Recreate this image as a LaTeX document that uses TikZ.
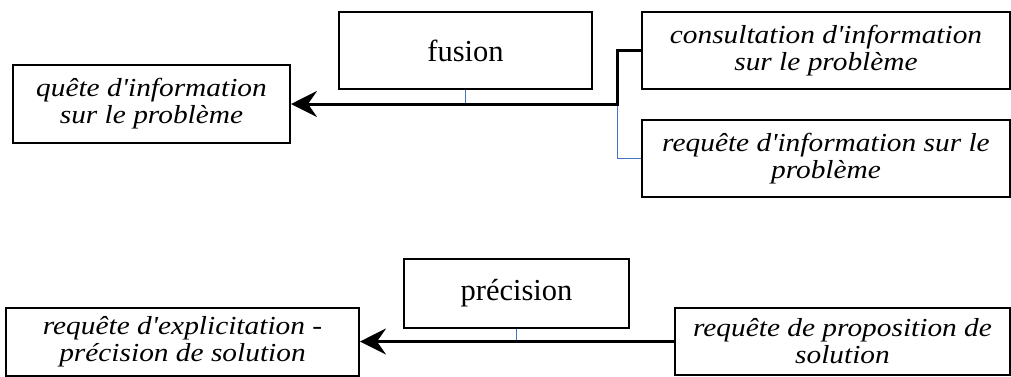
\documentclass[tikz,border=0pt]{standalone}
\usepackage{fontspec}
\setmainfont{Liberation Serif}
\newfontfamily\itf[FakeStretch=1.13]{Liberation Serif}
\usetikzlibrary{arrows.meta}
\definecolor{linkblue}{HTML}{4472C4}
\tikzset{
  box/.style={draw=black, line width=2pt, inner sep=0pt, align=center, anchor=center},
  ibox/.style={box, font=\itf\itshape\fontsize{26}{27}\selectfont},
  ubox/.style={box, font=\fontsize{30.5}{34}\selectfont},
  mainlink/.style={draw=black, line width=3pt, -{Stealth[length=26pt,width=26pt,inset=9pt]}},
  sublink/.style={draw=linkblue, line width=1pt},
}
\begin{document}
\begin{tikzpicture}[x=1pt,y=-1pt]
\useasboundingbox (0,0) rectangle (1011,376);
% top
\node[ubox, minimum width=253pt, minimum height=77pt] (fusion) at (465.5,50.5) {fusion};
\node[ibox, minimum width=277pt, minimum height=78pt] (quete) at (151.5,104) {quête d'information\\sur le problème};
\node[ibox, minimum width=368pt, minimum height=77pt] (consult) at (826,50.5) {consultation d'information\\sur le problème};
\node[ibox, minimum width=368pt, minimum height=77pt] (reqinfo) at (826,158.5) {requête d'information sur le\\problème};
\coordinate (bend) at (617,104);
\draw[sublink] (fusion.south) -- (fusion.south |- bend);
\draw[sublink] (reqinfo.west) -| (bend);
\draw[mainlink] (consult.west) -| (bend) -- (bend -| quete.east);
% bottom
\node[ubox, minimum width=225pt, minimum height=69pt] (precision) at (516.5,293.5) {précision};
\node[ibox, minimum width=353pt, minimum height=68pt] (explic) at (182.5,341.5) {requête d'explicitation -\\précision de solution};
\node[ibox, minimum width=335pt, minimum height=67pt] (propos) at (842.5,341.5) {requête de proposition de\\solution};
\draw[sublink] (precision.south) -- (precision.south |- propos.west);
\draw[mainlink] (propos.west) -- (explic.east);
\end{tikzpicture}
\end{document}
